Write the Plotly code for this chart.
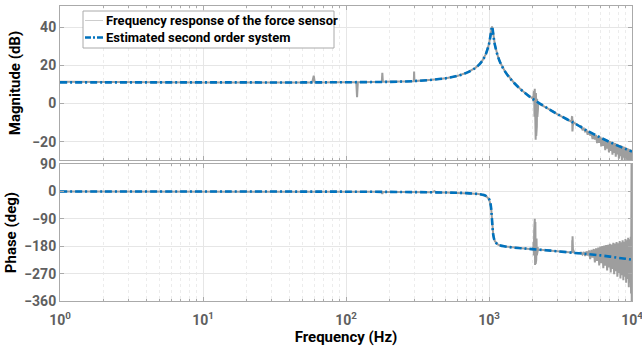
import plotly.graph_objects as go

# ---------------- data ----------------
# Estimated second order system (blue dash-dot)
model_freq = [1, 2, 5, 10, 20, 50, 100, 200, 300, 400, 500, 600, 700, 800, 850, 900, 950,
              1000, 1020, 1030, 1040, 1050, 1060, 1070, 1085, 1100, 1150, 1200, 1300, 1400,
              1500, 1700, 2000, 2500, 3000, 4000, 5000, 6000, 7000, 8000, 9000, 10000]
model_mag = [11.0, 11.0, 11.0, 11.0, 11.0, 11.0, 11.1, 11.3, 11.7, 12.4, 13.2, 14.4, 16.1, 18.5,
             20.2, 22.5, 25.8, 31.1, 34.6, 36.7, 38.9, 40.3, 38.9, 36.5, 33.2, 30.6, 25.0, 21.3,
             16.5, 13.2, 10.7, 6.8, 2.6, -2.0, -5.5, -10.6, -14.8, -17.8, -20.2, -22.2, -23.8, -25.2]
model_phase = [0.0, 0.0, -0.05, -0.1, -0.15, -0.3, -0.6, -1.3, -2.0, -2.7, -3.3, -4.2, -5.3, -7.2,
               -8.5, -10.5, -14.3, -24.5, -36.0, -47.4, -66.0, -94.5, -122.0, -141.0, -156.0,
               -163.7, -173.8, -177.6, -180.8, -183.0, -184.7, -186.5, -189.5, -193.0, -196.5,
               -202.0, -206.0, -210.0, -214.0, -218.0, -221.0, -224.0]

# Measured frequency response of the force sensor (grey) - magnitude
meas_mag_freq = [1, 1.5, 2, 3, 5, 10, 20, 40, 58, 59.5, 60.5, 90, 118, 119.5, 121, 150, 178, 179.5,
                 181, 250, 298, 299.5, 301, 400, 500, 600, 700, 800, 850, 900, 950, 1000, 1020,
                 1030, 1040, 1050, 1060, 1070, 1085, 1100, 1150, 1200, 1300, 1400, 1500, 1700,
                 1900, 2000,
                 2020, 2030, 2040, 2050, 2060, 2070, 2080, 2090, 2100, 2110, 2120, 2130, 2140,
                 2150, 2160, 2170, 2180, 2190, 2200, 2210, 2220,
                 2300, 2500, 2800, 3000, 3300, 3600, 3780, 3800, 3810, 3820, 3830, 3840, 3850,
                 3860, 3870, 3880, 3950, 4100, 4300,
                 4400, 4500, 4600, 4700, 4800, 4900, 5000, 5100, 5200, 5300, 5400, 5500, 5600,
                 5700, 5800, 5900, 6000, 6100, 6200, 6300, 6400, 6500, 6600, 6700, 6800, 6900,
                 7000, 7100, 7200, 7300, 7400, 7500, 7600, 7700, 7800, 7900, 8000, 8100, 8200,
                 8300, 8400, 8500, 8600, 8700, 8800, 8900, 9000, 9100, 9200, 9300, 9400, 9500,
                 9600, 9700, 9800, 9900, 9950, 10000]
meas_mag = [11.3, 11.2, 11.1, 11.0, 11.0, 11.0, 11.0, 11.0, 11.0, 14.5, 11.0, 11.1, 11.1, 3.3,
            11.1, 11.2, 11.3, 16.0, 11.3, 11.5, 11.6, 16.7, 11.7, 12.4, 13.2, 14.4, 16.1, 18.5,
            20.2, 22.5, 25.8, 31.1, 34.6, 36.7, 38.9, 40.3, 38.9, 36.5, 33.2, 30.6, 25.0, 21.3,
            16.5, 13.2, 10.7, 6.8, 4.0, 2.8,
            2.6, 3.5, 1.0, 5.0, -3.0, 6.5, -7.0, 7.7, -14.0, 7.0, -19.0, 5.5, -17.0,
            4.0, -12.0, 2.5, -7.0, 1.5, -3.0, 0.8, 0.0,
            -0.6, -2.0, -4.2, -5.6, -7.3, -8.8, -9.6, -7.0, -13.5, -6.8, -14.7, -7.5, -13.0,
            -8.5, -11.5, -9.8, -10.2, -11.0, -12.0,
            -12.0, -13.6, -13.1, -14.6, -13.8, -16.4, -14.5, -16.8, -15.3, -18.6, -15.9, -18.9,
            -16.5, -20.8, -17.0, -20.6, -17.4, -22.5, -18.0, -22.2, -18.5, -24.4, -18.9, -23.6,
            -19.4, -25.6, -19.7, -24.8, -20.1, -26.8, -20.5, -25.9, -20.8, -27.9, -21.1, -26.7,
            -21.5, -28.9, -21.8, -27.6, -22.1, -29.6, -22.4, -28.4, -22.7, -30.8, -23.0, -29.5,
            -23.3, -31.2, -23.6, -30.4, -23.9, -32.0, -24.1, -33.0, -24.5, -40.0]

# Measured frequency response - phase
meas_ph_freq = [1, 2, 5, 10, 20, 50, 100, 150, 178, 179.5, 181, 250, 300, 400, 415, 430, 500, 600,
                700, 800, 850, 900, 950, 1000, 1020, 1030, 1040, 1050, 1060, 1070, 1085, 1100,
                1150, 1200, 1300, 1400, 1500, 1700, 2000,
                2020, 2030, 2040, 2050, 2060, 2070, 2080, 2090, 2100, 2110, 2120, 2130, 2140,
                2150, 2160, 2170, 2180, 2190, 2200, 2210, 2220,
                2500, 3000, 3500, 3780, 3800, 3810, 3820, 3830, 3840, 3850, 3860, 3870, 3880,
                3950, 4200,
                4400, 4500, 4600, 4700, 4800, 4900, 5000, 5100, 5200, 5300, 5400, 5500, 5600,
                5700, 5800, 5900, 6000, 6100, 6200, 6300, 6400, 6500, 6600, 6700, 6800, 6900,
                7000, 7100, 7200, 7300, 7400, 7500, 7600, 7700, 7800, 7900, 8000, 8100, 8200,
                8300, 8400, 8500, 8600, 8700, 8800, 8900, 9000, 9100, 9200, 9300, 9400, 9500,
                9600, 9700, 9800, 9850, 9900, 9930, 9960, 9990, 10000]
meas_phase = [0.0, 0.0, -0.05, -0.1, -0.15, -0.3, -0.6, -0.9, -1.2, -8.0, -1.3, -1.7, -2.0, -2.7,
              1.0, -2.9, -3.3, -4.2, -5.3, -7.2, -8.5, -10.5, -14.3, -24.5, -36.0, -47.4, -66.0,
              -94.5, -122.0, -141.0, -156.0, -163.7, -173.8, -177.6, -180.8, -183.0, -184.7,
              -186.5, -189.5,
              -189, -185, -194, -165, -210, -130, -225, -90, -242, -100, -238, -130, -225,
              -155, -210, -172, -200, -183, -195, -188, -191,
              -193.0, -196.5, -199.0, -200.5, -198.0, -202.0, -160.0, -201.0, -147.0, -200.0,
              -170.0, -200.0, -192.0, -201.5, -203.0,
              -201, -207, -199, -212, -197, -210, -194, -222, -192, -217, -189, -233, -187,
              -228, -184, -243, -181, -236, -179, -252, -178, -244, -176, -260, -175, -250,
              -172, -266, -174, -255, -169, -272, -171, -262, -166, -280, -170, -268, -163,
              -286, -167, -275, -160, -292, -165, -280, -156, -300, -160, -288, -152, -315,
              -157, -300, -149, -335, -150, 120, -400, 120, -400]

# ---------------- styling ----------------
GREY = "rgb(158,158,158)"
BLUE = "rgb(0,114,189)"
GRID = "rgb(230,230,230)"
MINOR_GRID = "rgb(236,236,236)"
AXIS = "rgb(170,170,170)"
TICKCOL = "rgb(95,95,95)"
FONT = "Roboto"
DASH = "7px,3px,2px,3px"

decades = [1, 10, 100, 1000, 10000]
dec_text = ["10<sup>0</sup>", "10<sup>1</sup>", "10<sup>2</sup>", "10<sup>3</sup>", "10<sup>4</sup>"]
minor_vals = [m * d for d in [1, 10, 100, 1000] for m in range(2, 10)]

legend_names = ["Frequency response of the force sensor", "Estimated second order system"]

fig = go.Figure()

fig.add_trace(go.Scatter(x=meas_mag_freq, y=meas_mag, mode="lines",
                         line=dict(color=GREY, width=2), name=legend_names[0],
                         showlegend=False, xaxis="x", yaxis="y"))
fig.add_trace(go.Scatter(x=model_freq, y=model_mag, mode="lines", line_shape="spline",
                         line=dict(color=BLUE, width=2.6, dash=DASH), name=legend_names[1],
                         showlegend=False, xaxis="x", yaxis="y"))
fig.add_trace(go.Scatter(x=meas_ph_freq, y=meas_phase, mode="lines",
                         line=dict(color=GREY, width=2), showlegend=False,
                         xaxis="x2", yaxis="y2"))
fig.add_trace(go.Scatter(x=model_freq, y=model_phase, mode="lines", line_shape="spline",
                         line=dict(color=BLUE, width=2.6, dash=DASH),
                         showlegend=False, xaxis="x2", yaxis="y2"))

common_x = dict(type="log", range=[0, 4], showgrid=True, gridcolor=GRID, gridwidth=1,
                tickmode="array", tickvals=decades, ticktext=dec_text,
                showline=True, linecolor=AXIS, linewidth=1, mirror="ticks",
                ticks="inside", ticklen=4, tickcolor=AXIS, automargin=False,
                minor=dict(tickmode="array", tickvals=minor_vals, showgrid=True,
                           gridcolor=MINOR_GRID, griddash="dot", ticks="inside", ticklen=2,
                           tickcolor=AXIS),
                zeroline=False, ticklabeloverflow="allow",
                tickfont=dict(family=FONT, size=14, color=TICKCOL, weight="bold"))

common_y = dict(showgrid=True, gridcolor=GRID, gridwidth=1, zeroline=False,
                showline=True, linecolor=AXIS, linewidth=1, mirror="ticks",
                ticks="inside", ticklen=4, tickcolor=AXIS, automargin=False,
                tickfont=dict(family=FONT, size=14, color=TICKCOL, weight="bold"))

title_font = dict(family=FONT, size=15, color="black", weight="bold")

# custom legend (short line samples like the reference)
px_x = lambda p: (p - 60) / 572.0
px_y = lambda p: (301 - p) / 295.0
shapes = [
    dict(type="rect", xref="paper", yref="paper", x0=px_x(83), x1=px_x(334),
         y0=px_y(48), y1=px_y(11), line=dict(color=AXIS, width=1), fillcolor="white",
         layer="above"),
    dict(type="line", xref="paper", yref="paper", x0=px_x(85), x1=px_x(103),
         y0=px_y(20.5), y1=px_y(20.5), line=dict(color="rgb(205,205,205)", width=1),
         layer="above"),
    dict(type="line", xref="paper", yref="paper", x0=px_x(85), x1=px_x(103),
         y0=px_y(37.5), y1=px_y(37.5), line=dict(color=BLUE, width=2.6, dash="6px,2px,2px,2px"),
         layer="above"),
]
annotations = [
    dict(text=legend_names[0], xref="paper", yref="paper", x=px_x(104), y=px_y(20.5),
         xanchor="left", yanchor="middle", showarrow=False,
         font=dict(family=FONT, size=13, color="black", weight="bold")),
    dict(text=legend_names[1], xref="paper", yref="paper", x=px_x(104), y=px_y(37.5),
         xanchor="left", yanchor="middle", showarrow=False,
         font=dict(family=FONT, size=13, color="black", weight="bold")),
]

fig.update_layout(
    width=642, height=352,
    margin=dict(l=60, r=10, t=6, b=51),
    paper_bgcolor="white", plot_bgcolor="white",
    showlegend=False,
    xaxis=dict(common_x, domain=[0, 1], anchor="y", showticklabels=False),
    xaxis2=dict(common_x, domain=[0, 1], anchor="y2", matches="x", ticklabelstandoff=6,
                title=dict(text="Frequency (Hz)", standoff=4, font=title_font)),
    yaxis=dict(common_y, domain=[0.478, 1.0], anchor="x", range=[-29.6, 51],
               tickvals=[-20, 0, 20, 40],
               title=dict(text="Magnitude (dB)", standoff=8, font=title_font)),
    yaxis2=dict(common_y, domain=[0.0, 0.464], anchor="x2", range=[-360, 90],
                tickvals=[-360, -270, -180, -90, 0, 90],
                title=dict(text="Phase (deg)", standoff=4, font=title_font)),
    shapes=shapes,
    annotations=annotations,
)

fig.write_html("out.html")
